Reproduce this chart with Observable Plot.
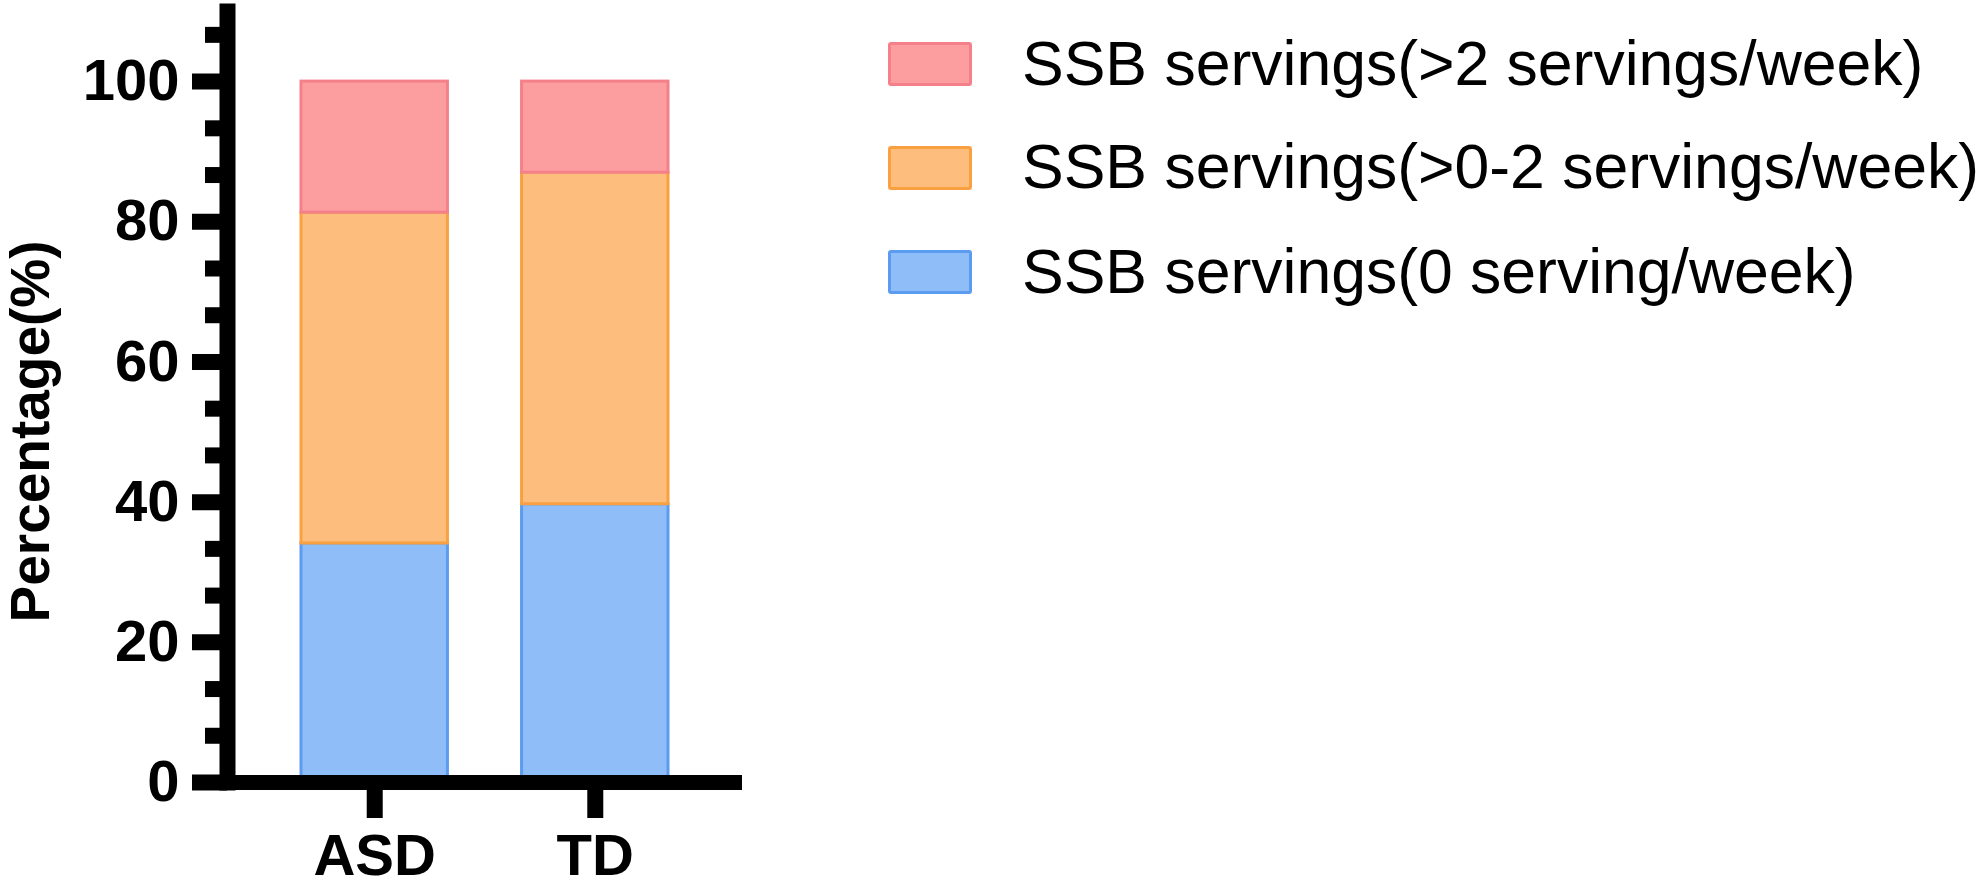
<!DOCTYPE html>
<html>
<head>
<meta charset="utf-8">
<script src="https://cdn.jsdelivr.net/npm/d3@7"></script>
<script src="https://cdn.jsdelivr.net/npm/@observablehq/plot@0.6"></script>
<style>
html, body { margin: 0; padding: 0; background: #fff; }
#wrap { position: relative; width: 1983px; height: 886px; overflow: hidden; font-family: "Liberation Sans", Arial, sans-serif; }
#chart { position: absolute; left: 0; top: 0; }
.sw { position: absolute; left: 888px; width: 84px; height: 44px; box-sizing: border-box; border: 3px solid; border-radius: 3px; }
.lt { position: absolute; left: 1022px; font-size: 62.5px; line-height: 62.5px; white-space: nowrap; color: #000; }
</style>
</head>
<body>
<div id="wrap"><div id="chart"></div><div id="legend"></div></div>
<script>
// ---- data ----
const groups = ["ASD", "TD"];
const series = [
  "SSB servings(0 serving/week)",
  "SSB servings(>0-2 servings/week)",
  "SSB servings(>2 servings/week)"
];
const valuesASD = [34.1, 47.2, 18.7];
const valuesTD = [39.7, 47.3, 13.0];
const legendOrder = [
  "SSB servings(>2 servings/week)",
  "SSB servings(>0-2 servings/week)",
  "SSB servings(0 serving/week)"
];
const yMajorTicks = [0, 20, 40, 60, 80, 100];
const yMinorTicks = [6.667, 13.333, 26.667, 33.333, 46.667, 53.333, 66.667, 73.333, 86.667, 93.333, 106.667];
const yTitle = "Percentage(%)";

// ---- styles ----
const fills = ["#8fbdf7", "#fdbe7d", "#fc9e9f"];
const strokes = ["#5c9cf0", "#f9a140", "#f4818a"];
const FONT = "Liberation Sans, Arial, sans-serif";

const table = [];
groups.forEach((g, gi) => {
  const vals = gi === 0 ? valuesASD : valuesTD;
  series.forEach((s, si) => table.push({group: g, series: s, value: vals[si], fill: fills[si], stroke: strokes[si]}));
});

const chart = Plot.plot({
  width: 880,
  height: 886,
  marginLeft: 227,
  marginRight: 138,
  marginTop: 11,
  marginBottom: 104,
  style: {fontFamily: FONT, background: "transparent", color: "#000", overflow: "visible"},
  x: {domain: groups, range: [301, 668], paddingInner: 0.336, paddingOuter: 0, round: false, axis: null, label: null},
  y: {domain: [0, 110], axis: null, label: null},
  color: {type: "identity"},
  marks: [
    Plot.barY(table, {x: "group", y: "value", fill: "fill", stroke: "stroke", strokeWidth: 3}),
    Plot.ruleY([0], {stroke: "#000", strokeWidth: 15}),
    Plot.frame({anchor: "left", stroke: "#000", strokeWidth: 16, strokeLinecap: "square"}),
    Plot.axisY(yMinorTicks, {anchor: "left", tickSize: 22, strokeWidth: 16, tickFormat: () => "", label: null}),
    Plot.axisY(yMajorTicks, {anchor: "left", tickSize: 35, tickPadding: 13, strokeWidth: 16, fontSize: 58, fontWeight: "bold", tickFormat: d => String(d), label: null}),
    Plot.axisX({anchor: "bottom", tickSize: 36, tickPadding: 15, strokeWidth: 16, fontSize: 58, fontWeight: "bold", label: null}),
    Plot.text([yTitle], {frameAnchor: "left", textAnchor: "middle", rotate: -90, dx: -196.6, dy: 34.5, fontSize: 55, fontWeight: "bold", lineAnchor: "middle", fill: "#000"})
  ]
});
document.getElementById("chart").appendChild(chart);

// ---- legend (HTML, right of the plot) ----
const legend = document.getElementById("legend");
const swTops = [42, 146, 250];
const textTops = [32, 135, 240];
legendOrder.forEach((name, i) => {
  const si = series.indexOf(name);
  const sw = document.createElement("div");
  sw.className = "sw";
  sw.style.top = swTops[i] + "px";
  sw.style.background = fills[si];
  sw.style.borderColor = strokes[si];
  legend.appendChild(sw);
  const t = document.createElement("div");
  t.className = "lt";
  t.style.top = textTops[i] + "px";
  t.textContent = name;
  legend.appendChild(t);
});
</script>
</body>
</html>
